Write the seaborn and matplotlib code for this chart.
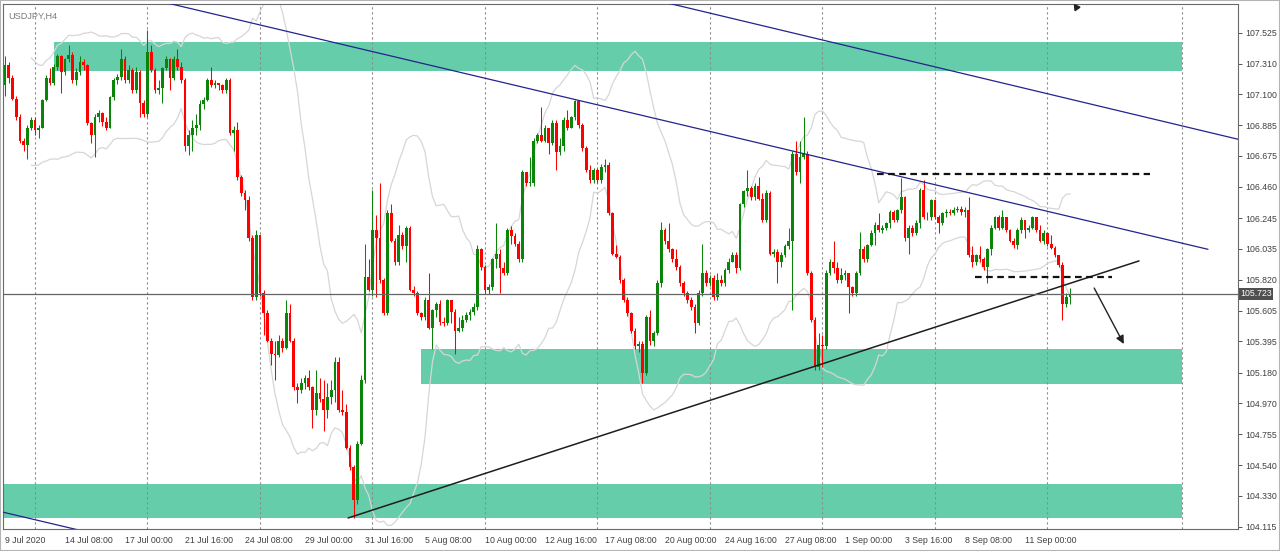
import numpy as np
import pandas as pd
import matplotlib
matplotlib.use('Agg')
import matplotlib.pyplot as plt
import matplotlib.transforms as mtransforms
from matplotlib.patches import Rectangle
import seaborn as sns

# USDJPY H4 candles (bar 0 = 9 Jul 2020 16:00)
first_open = 107.16
closes = [
    107.30, 107.21, 107.07, 106.94, 106.78, 106.75, 106.87, 106.92, 106.85, 106.87,
    107.06, 107.21, 107.18, 107.29, 107.36, 107.25, 107.34, 107.37, 107.20, 107.25,
    107.32, 107.30, 106.90, 106.82, 106.94, 106.97, 106.91, 106.87, 107.08, 107.20,
    107.22, 107.34, 107.20, 107.27, 107.13, 107.25, 107.04, 106.96, 107.39, 107.27,
    107.13, 107.14, 107.28, 107.34, 107.21, 107.34, 107.29, 107.20, 106.74, 106.82,
    106.87, 106.89, 107.03, 107.06, 107.20, 107.16, 107.18, 107.16, 107.13, 107.20,
    106.83, 106.85, 106.53, 106.42, 106.37, 106.11, 105.70, 106.13, 105.73, 105.59,
    105.40, 105.31, 105.30, 105.40, 105.35, 105.59, 105.40, 105.08, 105.06, 105.11,
    105.14, 105.08, 104.92, 105.04, 105.00, 104.92, 105.01, 105.06, 105.25, 104.92,
    104.91, 104.66, 104.53, 104.30, 104.69, 105.13, 105.84, 105.75, 106.16, 106.11,
    105.82, 105.59, 106.28, 106.09, 105.94, 106.13, 106.05, 106.18, 105.75, 105.73,
    105.59, 105.56, 105.68, 105.49, 105.61, 105.65, 105.53, 105.52, 105.68, 105.60,
    105.47, 105.49, 105.54, 105.58, 105.60, 105.63, 106.03, 105.91, 105.75, 105.77,
    105.96, 106.00, 105.90, 105.87, 106.16, 106.12, 106.07, 105.96, 106.56, 106.49,
    106.49, 106.78, 106.82, 106.78, 106.87, 106.76, 106.90, 106.70, 106.74, 106.92,
    106.87, 106.94, 107.05, 106.89, 106.73, 106.58, 106.51, 106.58, 106.51, 106.60,
    106.61, 106.28, 106.00, 105.98, 105.82, 105.68, 105.59, 105.47, 105.36, 105.38,
    105.18, 105.56, 105.40, 105.45, 105.80, 106.16, 106.09, 106.03, 105.96, 105.91,
    105.80, 105.73, 105.68, 105.63, 105.52, 105.73, 105.87, 105.80, 105.83, 105.70,
    105.82, 105.80, 105.89, 105.94, 105.99, 105.90, 106.34, 106.43, 106.45, 106.39,
    106.47, 106.38, 106.23, 106.42, 106.00, 106.01, 105.94, 105.99, 106.05, 106.09,
    106.69, 106.56, 106.67, 106.69, 105.87, 105.54, 105.22, 105.37, 105.36, 105.87,
    105.94, 105.90, 105.82, 105.85, 105.87, 105.77, 105.73, 105.87, 106.03, 105.96,
    106.06, 106.14, 106.20, 106.16, 106.18, 106.21, 106.29, 106.23, 106.30, 106.39,
    106.11, 106.18, 106.14, 106.21, 106.44, 106.25, 106.25, 106.37, 106.25, 106.21,
    106.28, 106.29, 106.28, 106.30, 106.31, 106.29, 106.30, 105.99, 105.94, 105.99,
    105.96, 105.91, 106.03, 106.18, 106.25, 106.18, 106.25, 106.16, 106.09, 106.06,
    106.16, 106.23, 106.16, 106.18, 106.25, 106.16, 106.09, 106.14, 106.07, 106.04,
    105.99, 105.92, 105.65, 105.70, 105.72,
]
highs = [
    107.36, 107.32, 107.23, 107.09, 106.96, 106.80, 106.89, 106.94, 106.94, 106.89,
    107.07, 107.23, 107.28, 107.31, 107.38, 107.37, 107.35, 107.44, 107.39, 107.28,
    107.36, 107.34, 107.31, 106.91, 106.96, 106.99, 106.98, 106.94, 107.09, 107.21,
    107.24, 107.41, 107.36, 107.30, 107.28, 107.29, 107.27, 107.06, 107.54, 107.44,
    107.28, 107.20, 107.29, 107.36, 107.35, 107.36, 107.41, 107.32, 107.21, 106.85,
    106.92, 106.96, 107.06, 107.08, 107.21, 107.29, 107.20, 107.18, 107.17, 107.21,
    107.21, 106.88, 106.91, 106.54, 106.44, 106.40, 106.13, 106.16, 106.11, 105.75,
    105.61, 105.42, 105.40, 105.44, 105.42, 105.68, 105.65, 105.42, 105.11, 105.14,
    105.16, 105.20, 105.09, 105.20, 105.14, 105.13, 105.11, 105.13, 105.29, 105.29,
    105.06, 104.96, 104.68, 104.54, 104.71, 105.16, 106.07, 105.96, 106.44, 106.27,
    106.49, 105.83, 106.30, 106.34, 106.11, 106.20, 106.15, 106.19, 106.19, 105.78,
    105.74, 105.60, 105.70, 105.87, 105.62, 105.67, 105.68, 105.56, 105.69, 105.68,
    105.62, 105.56, 105.58, 105.60, 105.62, 105.66, 106.06, 106.04, 105.92, 105.79,
    105.97, 106.21, 106.03, 105.94, 106.18, 106.19, 106.14, 106.09, 106.58, 106.56,
    106.67, 106.80, 106.83, 107.01, 106.89, 106.87, 106.92, 106.92, 106.80, 106.94,
    106.99, 106.95, 107.06, 107.06, 106.90, 106.74, 106.61, 106.59, 106.59, 106.62,
    106.65, 106.63, 106.29, 106.06, 105.99, 105.83, 105.70, 105.60, 105.49, 105.40,
    105.40, 105.58, 105.61, 105.47, 105.82, 106.22, 106.18, 106.21, 106.04, 106.03,
    105.92, 105.81, 105.74, 105.70, 105.65, 105.75, 106.07, 105.89, 105.85, 105.85,
    105.87, 105.85, 105.90, 105.97, 106.01, 106.01, 106.35, 106.44, 106.58, 106.47,
    106.49, 106.53, 106.42, 106.44, 106.43, 106.03, 106.03, 106.01, 106.07, 106.18,
    106.71, 106.78, 106.78, 106.94, 106.71, 105.88, 105.56, 105.45, 105.44, 105.89,
    105.96, 106.09, 105.94, 105.90, 105.89, 105.87, 105.78, 105.88, 106.15, 106.05,
    106.07, 106.16, 106.22, 106.28, 106.20, 106.22, 106.30, 106.30, 106.31, 106.52,
    106.40, 106.20, 106.20, 106.23, 106.45, 106.51, 106.29, 106.38, 106.35, 106.27,
    106.29, 106.31, 106.31, 106.32, 106.33, 106.33, 106.32, 106.39, 106.05, 106.00,
    106.05, 105.98, 106.04, 106.20, 106.26, 106.27, 106.30, 106.25, 106.17, 106.11,
    106.18, 106.25, 106.23, 106.20, 106.26, 106.25, 106.20, 106.16, 106.15, 106.13,
    106.05, 105.99, 105.94, 105.73, 105.76,
]
lows = [
    107.09, 107.18, 107.06, 106.92, 106.76, 106.71, 106.65, 106.85, 106.82, 106.80,
    106.87, 107.05, 107.16, 107.16, 107.27, 107.11, 107.23, 107.32, 107.18, 107.16,
    107.23, 107.27, 106.89, 106.76, 106.67, 106.91, 106.88, 106.85, 106.87, 107.06,
    107.17, 107.20, 107.18, 107.18, 107.11, 107.11, 106.94, 106.94, 106.94, 107.25,
    107.11, 107.10, 107.04, 107.27, 107.13, 107.20, 107.27, 107.18, 106.71, 106.68,
    106.71, 106.82, 106.85, 107.00, 107.05, 107.15, 107.14, 107.13, 107.11, 107.11,
    106.82, 106.71, 106.51, 106.40, 106.30, 106.09, 105.68, 105.68, 105.71, 105.44,
    105.39, 105.23, 105.13, 105.29, 105.32, 105.34, 105.39, 105.06, 104.97, 105.04,
    105.07, 105.06, 104.80, 104.89, 104.98, 104.78, 104.87, 104.96, 104.98, 104.91,
    104.89, 104.65, 104.51, 104.18, 104.27, 104.68, 105.11, 105.74, 105.71, 105.70,
    105.80, 105.58, 105.58, 106.08, 105.92, 105.92, 106.03, 105.94, 105.74, 105.71,
    105.58, 105.54, 105.54, 105.48, 105.34, 105.56, 105.51, 105.50, 105.51, 105.52,
    105.31, 105.46, 105.47, 105.53, 105.54, 105.58, 105.61, 105.89, 105.73, 105.72,
    105.75, 105.90, 105.73, 105.85, 105.85, 106.07, 106.05, 105.94, 105.94, 106.47,
    106.47, 106.47, 106.76, 106.77, 106.77, 106.69, 106.75, 106.58, 106.68, 106.71,
    106.85, 106.87, 106.92, 106.87, 106.71, 106.56, 106.49, 106.49, 106.49, 106.49,
    106.56, 106.27, 105.99, 105.97, 105.80, 105.67, 105.57, 105.45, 105.34, 105.32,
    105.11, 105.16, 105.37, 105.36, 105.44, 105.77, 106.07, 106.01, 105.94, 105.89,
    105.78, 105.71, 105.66, 105.61, 105.45, 105.51, 105.71, 105.78, 105.78, 105.68,
    105.68, 105.78, 105.78, 105.87, 105.94, 105.87, 105.89, 106.32, 106.40, 106.37,
    106.37, 106.37, 106.22, 106.22, 105.99, 105.98, 105.80, 105.91, 105.98, 106.03,
    105.61, 106.54, 106.49, 106.65, 105.85, 105.53, 105.20, 105.20, 105.22, 105.34,
    105.85, 105.87, 105.80, 105.80, 105.82, 105.59, 105.71, 105.71, 105.85, 105.94,
    105.94, 106.05, 106.06, 106.15, 106.14, 106.16, 106.18, 106.22, 106.22, 106.28,
    106.09, 106.00, 106.12, 106.13, 106.18, 106.24, 106.23, 106.23, 106.24, 106.14,
    106.20, 106.25, 106.27, 106.27, 106.29, 106.27, 106.25, 105.98, 105.91, 105.92,
    105.94, 105.89, 105.80, 105.99, 106.17, 106.16, 106.17, 106.15, 106.08, 106.04,
    106.03, 106.14, 106.11, 106.15, 106.17, 106.15, 106.08, 106.07, 106.05, 106.03,
    105.98, 105.91, 105.54, 105.63, 105.65,
]

time_labels = ['9 Jul 2020', '14 Jul 08:00', '17 Jul 00:00', '21 Jul 16:00', '24 Jul 08:00',
               '29 Jul 00:00', '31 Jul 16:00', '5 Aug 08:00', '10 Aug 00:00', '12 Aug 16:00',
               '17 Aug 08:00', '20 Aug 00:00', '24 Aug 16:00', '27 Aug 08:00', '1 Sep 00:00',
               '3 Sep 16:00', '8 Sep 08:00', '11 Sep 00:00']
price_ticks = [107.525, 107.310, 107.100, 106.885, 106.675, 106.460, 106.245, 106.035,
               105.820, 105.605, 105.395, 105.180, 104.970, 104.755, 104.540, 104.330, 104.115]
last_price = 105.723

# drawn objects: (start bar, end bar, low, high)
zones = [(13, 314, 107.26, 107.46), (111, 314, 105.10, 105.34), (-1, 314, 104.18, 104.41)]
channel_lines = [((30, 107.81), (320.8, 106.03)),
                 ((176.5, 107.73), (340, 106.72)),
                 ((-1, 104.22), (40, 103.97))]
support_line = ((91.5, 104.177), (302.4, 105.95))
dashed_levels = [(232.5, 305.3, 106.55), (258.7, 295.2, 105.84)]
arrow_start = (290.1, 105.78)
arrow_end = (298.7, 105.36)
top_arrow_tip = (285.6, 107.70)

df = pd.DataFrame({'close': closes, 'high': highs, 'low': lows})
df['bar'] = np.arange(len(df))
df['open'] = df['close'].shift(1).fillna(first_open)
df['high'] = df[['high', 'open', 'close']].max(axis=1)
df['low'] = df[['low', 'open', 'close']].min(axis=1)

# Bollinger bands (20, 2)
roll = df['close'].rolling(20, min_periods=8)
df['upper'] = roll.mean() + 2 * roll.std(ddof=0)
df['lower'] = roll.mean() - 2 * roll.std(ddof=0)

sns.set_style('white')
plt.rcParams['font.family'] = ['Liberation Sans', 'DejaVu Sans']

W, H = 1280, 551
fig = plt.figure(figsize=(W / 100, H / 100), dpi=100)
ax = fig.add_axes([3 / W, (H - 529) / H, (1238 - 3) / W, (529 - 4) / H])
ax.set_xlim(-0.53, 328.8)
ax.set_ylim(104.101, 107.722)

# zones in the background
for x0, x1, lo, hi in zones:
    ax.add_patch(Rectangle((x0, lo), x1 - x0, hi - lo, facecolor='#66CDAA',
                           edgecolor='none', zorder=0))

# weekly grid
for b in list(range(8, 279, 30)) + [314]:
    ax.axvline(b, color='#8a8a8a', lw=0.8, ls=(0, (2, 2.5)), zorder=0.5)

# bands
sns.lineplot(x=df['bar'], y=df['upper'], ax=ax, color='#d6d6d6', lw=0.9, zorder=1)
sns.lineplot(x=df['bar'], y=df['lower'], ax=ax, color='#d6d6d6', lw=0.9, zorder=1)

# candles
up = df['close'] >= df['open']
colors = np.where(up, '#0a850a', '#ff0000')
ax.vlines(df['bar'], df['low'], df['high'], colors=colors, lw=0.75, zorder=2)
body_low = np.minimum(df['open'], df['close'])
body_h = np.maximum((df['close'] - df['open']).abs(), 0.006)
ax.bar(df['bar'], body_h, bottom=body_low, width=0.74, color=colors, linewidth=0, zorder=3)

# trend lines
for (x0, y0), (x1, y1) in channel_lines:
    ax.plot([x0, x1], [y0, y1], color='#23238e', lw=0.9, zorder=4)
ax.plot([support_line[0][0], support_line[1][0]], [support_line[0][1], support_line[1][1]],
        color='#1e1e1e', lw=1.1, zorder=4)
for x0, x1, lvl in dashed_levels:
    ax.plot([x0, x1], [lvl, lvl], color='#111111', lw=1.6, ls=(0, (3, 2)), zorder=4)
ax.annotate('', xy=arrow_end, xytext=arrow_start,
            arrowprops=dict(arrowstyle='-|>', color='#222222', lw=1.0, mutation_scale=12), zorder=5)
# head of a second arrow, cut by the top edge
ax.plot([top_arrow_tip[0]], [top_arrow_tip[1]], marker=(3, 0, 155), markersize=5,
        color='#222222', zorder=5)

# last price line and label
ax.axhline(last_price, color='#646464', lw=0.9, zorder=4)
trans = mtransforms.blended_transform_factory(ax.transAxes, ax.transData)
ax.text(1.0015, last_price, f'{last_price:.3f}', transform=trans, ha='left', va='center',
        fontsize=6.3, color='white',
        bbox=dict(boxstyle='square,pad=0.15', facecolor='#4f4f4f', edgecolor='none'), zorder=6)

ax.text(0.004, 0.985, 'USDJPY,H4', transform=ax.transAxes, ha='left', va='top',
        fontsize=6.6, color='#7a7a7a')

# axes
ax.yaxis.tick_right()
ax.set_yticks(price_ticks)
ax.set_yticklabels([f'{v:.3f}' for v in price_ticks])
ax.set_xticks(np.arange(0, 16 * len(time_labels), 16))
ax.set_xticklabels(time_labels, ha='left')
ax.tick_params(axis='both', direction='out', length=3, width=0.7, color='#555555',
               labelsize=6.3, labelcolor='#404040', pad=2)
ax.set_xlabel('')
ax.set_ylabel('')
for s in ax.spines.values():
    s.set_color('#6a6a6a')
    s.set_linewidth(0.8)

fig.patches.append(Rectangle((0, 0), 1, 1, transform=fig.transFigure, fill=False,
                             edgecolor='#b4b4b4', lw=1.5))

fig.savefig('out.png', dpi=100)
